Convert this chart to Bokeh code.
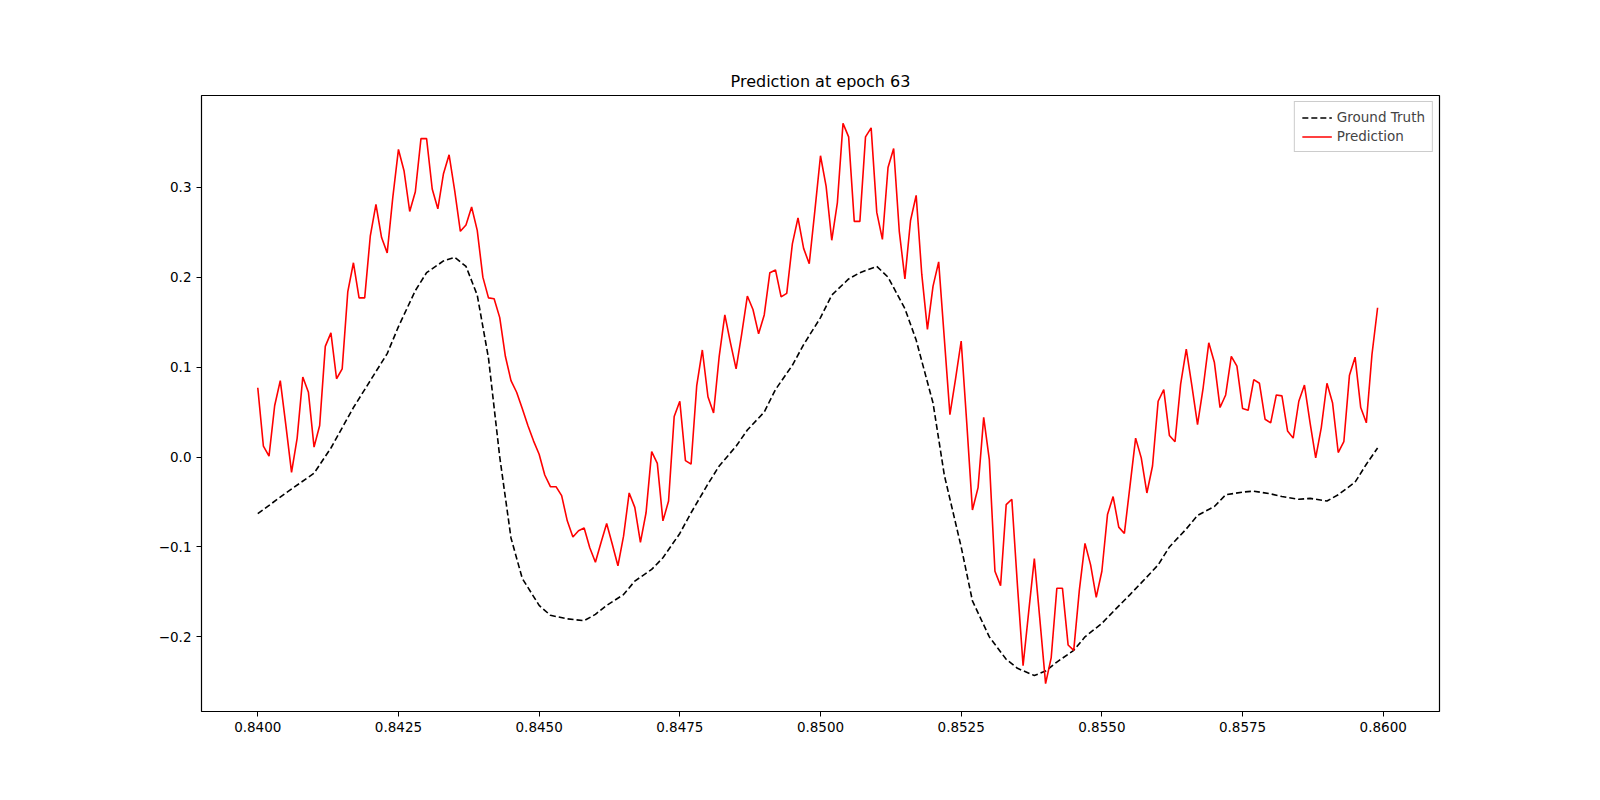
from bokeh.plotting import figure
from bokeh.models import Range1d, FixedTicker, Legend, LegendItem
from bokeh.embed import file_html
from bokeh.resources import INLINE

title = "Prediction at epoch 63"

gt_x = [0.8400, 0.8405, 0.8410, 0.8413, 0.8417, 0.8420, 0.8423, 0.8425, 0.8428, 0.8430,
        0.8433, 0.8435, 0.8437, 0.8439, 0.8441, 0.8443, 0.8445, 0.8447, 0.8450, 0.8452,
        0.8455, 0.8458, 0.8460, 0.8462, 0.8465, 0.8467, 0.8470, 0.8472, 0.8475, 0.8477,
        0.8480, 0.8482, 0.8485, 0.8487, 0.8490, 0.8492, 0.8495, 0.8497, 0.8500, 0.8502,
        0.8505, 0.8507, 0.8510, 0.8512, 0.8515, 0.8517, 0.8520, 0.8522, 0.8525, 0.8527,
        0.8530, 0.8533, 0.8535, 0.8538, 0.8540, 0.8542, 0.8545, 0.8547, 0.8550, 0.8552,
        0.8555, 0.8557, 0.8560, 0.8562, 0.8565, 0.8567, 0.8570, 0.8572, 0.8575, 0.8577,
        0.8580, 0.8582, 0.8585, 0.8587, 0.8590, 0.8592, 0.8595, 0.8597, 0.8599]
gt_y = [-0.063, -0.040, -0.018, 0.010, 0.055, 0.085, 0.115, 0.145, 0.185, 0.205,
        0.218, 0.222, 0.212, 0.180, 0.110, 0.000, -0.090, -0.135, -0.165, -0.176,
        -0.180, -0.182, -0.175, -0.165, -0.153, -0.138, -0.125, -0.112, -0.085, -0.062,
        -0.030, -0.010, 0.012, 0.030, 0.050, 0.075, 0.102, 0.125, 0.155, 0.180,
        0.198, 0.205, 0.212, 0.200, 0.165, 0.130, 0.060, -0.020, -0.100, -0.160,
        -0.200, -0.225, -0.235, -0.243, -0.238, -0.228, -0.215, -0.200, -0.185, -0.172,
        -0.153, -0.140, -0.120, -0.100, -0.080, -0.065, -0.055, -0.042, -0.039, -0.038,
        -0.041, -0.044, -0.047, -0.046, -0.049, -0.042, -0.028, -0.008, 0.010]

pred_y = [
    0.077, 0.012, 0.001, 0.057, 0.085, 0.035, -0.017, 0.021, 0.089, 0.072,
    0.011, 0.035, 0.123, 0.138, 0.087, 0.098, 0.184, 0.216, 0.177, 0.177,
    0.246, 0.281, 0.244, 0.227, 0.289, 0.342, 0.318, 0.273, 0.295, 0.354,
    0.354, 0.298, 0.276, 0.315, 0.336, 0.296, 0.251, 0.258, 0.278, 0.252,
    0.200, 0.177, 0.176, 0.155, 0.112, 0.085, 0.072, 0.054, 0.035, 0.018,
    0.003, -0.020, -0.033, -0.033, -0.043, -0.071, -0.089, -0.082, -0.079, -0.101,
    -0.117, -0.095, -0.074, -0.097, -0.121, -0.088, -0.040, -0.056, -0.095, -0.062,
    0.006, -0.007, -0.071, -0.049, 0.045, 0.062, -0.004, -0.008, 0.079, 0.119,
    0.067, 0.049, 0.112, 0.158, 0.127, 0.098, 0.137, 0.179, 0.164, 0.137,
    0.158, 0.205, 0.208, 0.178, 0.182, 0.237, 0.266, 0.232, 0.215,
    0.274, 0.335, 0.301, 0.241, 0.283, 0.371, 0.356, 0.262, 0.262, 0.356,
    0.366, 0.272, 0.242, 0.322, 0.343, 0.251, 0.198, 0.263, 0.291, 0.203,
    0.142, 0.190, 0.217, 0.132, 0.047, 0.087, 0.129, 0.037, -0.059, -0.034,
    0.044, -0.003, -0.127, -0.143, -0.053, -0.047, -0.143, -0.232, -0.172, -0.113,
    -0.182, -0.252, -0.223, -0.146, -0.146, -0.209, -0.215, -0.148, -0.096, -0.120,
    -0.156, -0.127, -0.064, -0.044, -0.078, -0.085, -0.032, 0.021, -0.001, -0.040,
    -0.010, 0.062, 0.075, 0.024, 0.017, 0.081, 0.120, 0.079, 0.036, 0.077,
    0.127, 0.105, 0.055, 0.069, 0.112, 0.101, 0.054, 0.052, 0.086, 0.082,
    0.042, 0.038, 0.069, 0.068, 0.029, 0.021, 0.062, 0.080, 0.038, -0.001,
    0.033, 0.082, 0.060, 0.005, 0.017, 0.091, 0.111, 0.055, 0.038, 0.114, 0.166,
]
pred_x = [0.84 + i * (0.0199 / (len(pred_y) - 1)) for i in range(len(pred_y))]

x_ticks = [0.8400, 0.8425, 0.8450, 0.8475, 0.8500, 0.8525, 0.8550, 0.8575, 0.8600]
y_ticks = [-0.2, -0.1, 0.0, 0.1, 0.2, 0.3]

FONT = "DejaVu Sans"

p = figure(width=1584, height=784, output_backend="svg", toolbar_location=None,
           x_range=Range1d(0.839, 0.861), y_range=Range1d(-0.283, 0.402),
           min_border_left=201, min_border_right=145, min_border_top=95,
           min_border_bottom=73)
p.title.text = title
p.title.align = "center"
p.title.text_font = FONT
p.title.text_font_style = "normal"
p.title.text_font_size = "16px"
p.title.text_color = "black"

p.grid.visible = False
p.outline_line_color = "black"
p.outline_line_width = 1.2

for ax in (p.xaxis, p.yaxis):
    ax.major_label_text_font = FONT
    ax.major_label_text_font_size = "13.5px"
    ax.major_label_text_color = "black"
    ax.axis_line_color = None
    ax.minor_tick_line_color = None
    ax.major_tick_in = 0
    ax.major_tick_out = 5
    ax.major_tick_line_color = "black"

p.xaxis.ticker = FixedTicker(ticks=x_ticks)
p.xaxis.major_label_overrides = {t: f"{t:.4f}" for t in x_ticks}
p.yaxis.ticker = FixedTicker(ticks=y_ticks)
p.yaxis.major_label_overrides = {t: f"{t:.1f}".replace("-", "\u2212") for t in y_ticks}

gt = p.line(gt_x, gt_y, line_color="black", line_dash="6 3", line_width=1.6)
pr = p.line(pred_x, pred_y, line_color="red", line_width=1.6)

legend = Legend(items=[LegendItem(label="Ground Truth", renderers=[gt]),
                       LegendItem(label="Prediction", renderers=[pr])],
                location="top_right")
legend.label_text_font = FONT
legend.label_text_font_size = "13.5px"
legend.border_line_color = "#cccccc"
legend.border_line_alpha = 1
legend.background_fill_alpha = 0.8
legend.glyph_width = 30
legend.glyph_height = 15
legend.label_height = 15
legend.spacing = 3
legend.padding = 7
legend.margin = 6
p.add_layout(legend)

open("out.html", "w").write(file_html(p, INLINE))
